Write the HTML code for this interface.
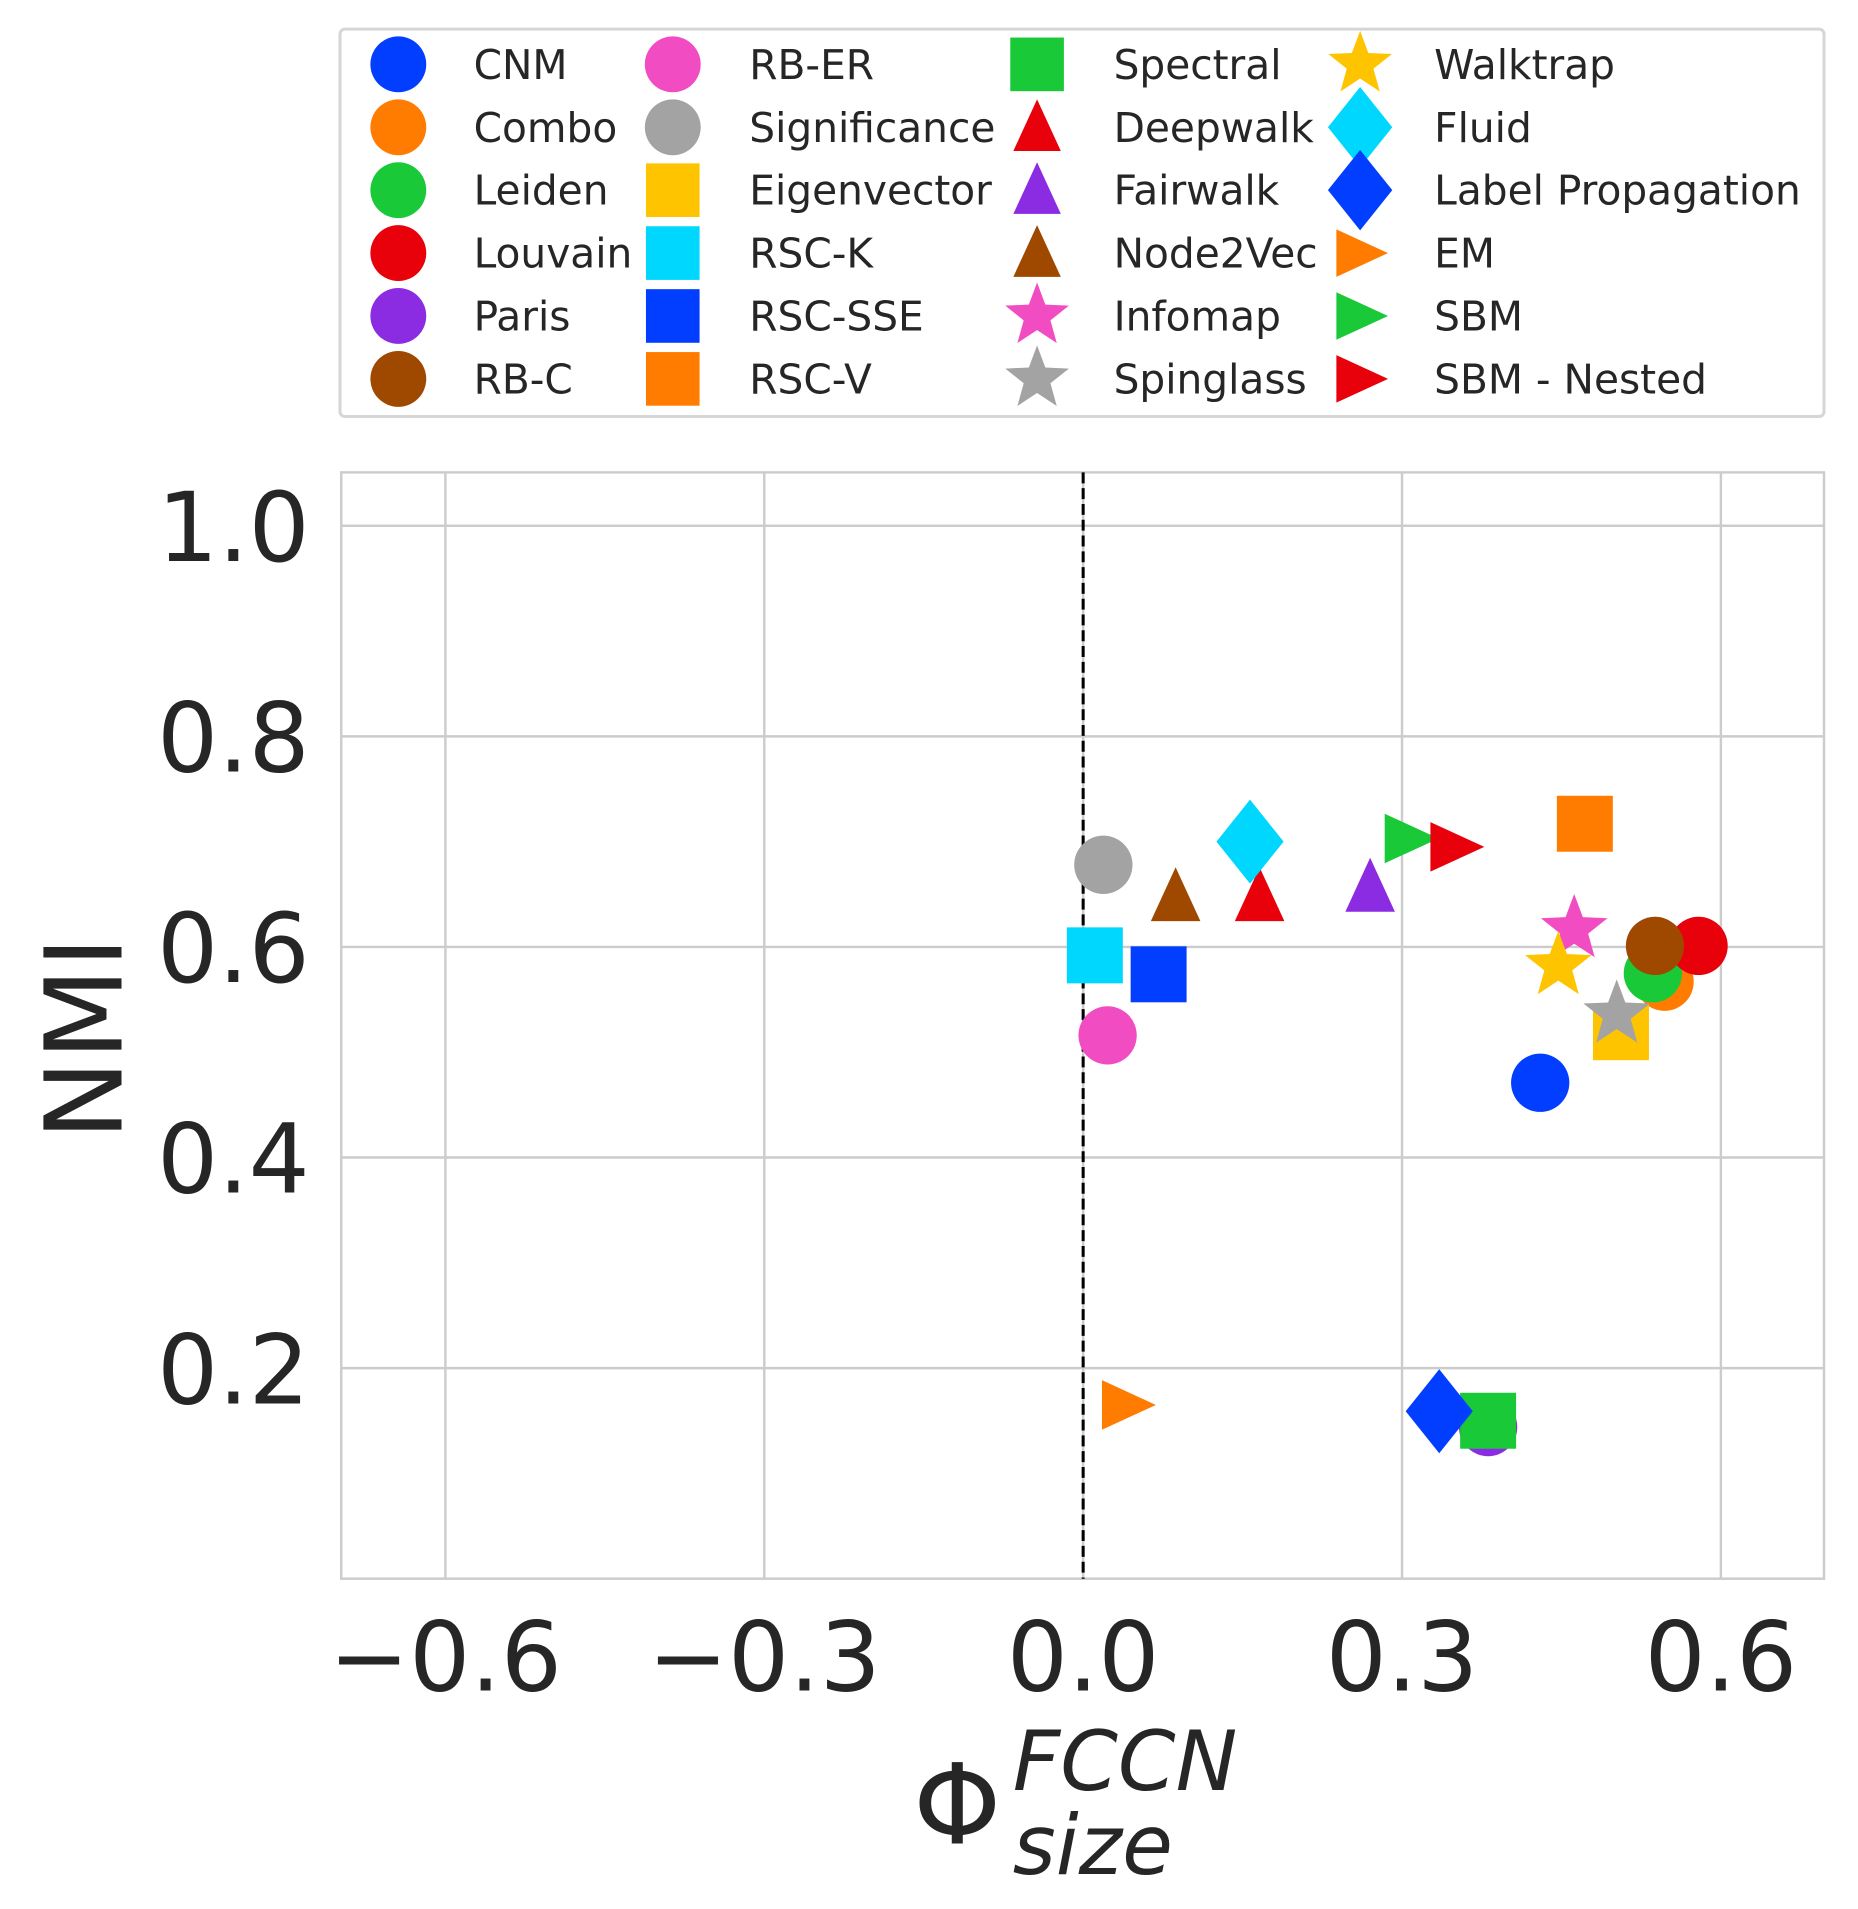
<!DOCTYPE html>
<html><head><meta charset="utf-8"><style>
html,body{margin:0;padding:0;background:#fff;}
svg{display:block;font-family:"DejaVu Sans","Liberation Sans",sans-serif;}
</style></head><body>
<svg id="chart" width="1858" height="1909" viewBox="0 0 1530 1572" xmlns="http://www.w3.org/2000/svg">
<g id="grid"></g>
<g id="marks"></g>
<g id="axes"></g>
<g id="legend"></g>
</svg>
<script>
const methods = ["CNM","Combo","Leiden","Louvain","Paris","RB-C","RB-ER","Significance","Eigenvector","RSC-K","RSC-SSE","RSC-V","Spectral","Deepwalk","Fairwalk","Node2Vec","Infomap","Spinglass","Walktrap","Fluid","Label Propagation","EM","SBM","SBM - Nested"];
const phiValues = [0.430,0.547,0.536,0.579,0.381,0.538,0.023,0.019,0.506,0.011,0.071,0.472,0.381,0.166,0.270,0.087,0.462,0.502,0.447,0.157,0.335,0.041,0.307,0.350];
const nmiValues = [0.471,0.567,0.575,0.601,0.144,0.601,0.516,0.678,0.519,0.592,0.574,0.717,0.150,0.648,0.657,0.648,0.617,0.536,0.582,0.700,0.159,0.165,0.703,0.695];
const markerShapes = ["circle","circle","circle","circle","circle","circle","circle","circle","square","square","square","square","square","triangle","triangle","triangle","star","star","star","diamond","diamond","right","right","right"];
const markerColors = ["#023eff","#ff7c00","#1ac938","#e8000b","#8b2be2","#9f4800","#f14cc1","#a3a3a3","#ffc400","#00d7ff","#023eff","#ff7c00","#1ac938","#e8000b","#8b2be2","#9f4800","#f14cc1","#a3a3a3","#ffc400","#00d7ff","#023eff","#ff7c00","#1ac938","#e8000b"];
const xTicks = [-0.6,-0.3,0.0,0.3,0.6];
const xTickLabels = ["\u22120.6","\u22120.3","0.0","0.3","0.6"];
const yTicks = [0.2,0.4,0.6,0.8,1.0];
const yTickLabels = ["0.2","0.4","0.6","0.8","1.0"];

const NS="http://www.w3.org/2000/svg";
const L=281,R=1502,T=389,B=1300;
const xMin=-0.698,xMax=0.697,yMin=0.0,yMax=1.0507;
function xs(v){return L+(v-xMin)/(xMax-xMin)*(R-L);}
function ys(v){return B-(v-yMin)/(yMax-yMin)*(B-T);}
function mk(tag,attrs,parent){const e=document.createElementNS(NS,tag);for(const k in attrs)e.setAttribute(k,attrs[k]);parent.appendChild(e);return e;}
function shape(kind,cx,cy,s,color,parent){
  let e;
  if(kind==="circle"){e=mk("circle",{cx:cx,cy:cy,r:s*0.5,fill:color},parent);}
  else if(kind==="square"){e=mk("rect",{x:cx-s*0.48,y:cy-s*0.48,width:s*0.96,height:s*0.96,fill:color},parent);}
  else if(kind==="triangle"){const h=s*0.5;e=mk("polygon",{points:`${cx},${cy-h} ${cx+h*0.85},${cy+h*0.85} ${cx-h*0.85},${cy+h*0.85}`,fill:color},parent);}
  else if(kind==="right"){const h=s*0.5;e=mk("polygon",{points:`${cx+h},${cy} ${cx-h*0.85},${cy-h*0.85} ${cx-h*0.85},${cy+h*0.85}`,fill:color},parent);}
  else if(kind==="diamond"){const h=s*0.72;e=mk("polygon",{points:`${cx},${cy-h} ${cx+h*0.8},${cy} ${cx},${cy+h} ${cx-h*0.8},${cy}`,fill:color},parent);}
  else {const ro=s*0.6,ri=ro*0.42;let p=[];for(let i=0;i<10;i++){const r=i%2?ri:ro;const a=-Math.PI/2+i*Math.PI/5;p.push((cx+r*Math.cos(a)).toFixed(1)+","+(cy+r*Math.sin(a)).toFixed(1));}e=mk("polygon",{points:p.join(" "),fill:color},parent);}
  return e;
}
const grid=document.getElementById("grid"),marks=document.getElementById("marks"),axes=document.getElementById("axes"),legend=document.getElementById("legend");
const bg=mk("rect",{x:L,y:T,width:R-L,height:B-T,fill:"#fff",stroke:"#cccccc","stroke-width":2},grid);


xTicks.forEach((t,i)=>{
  const ln=mk("line",{x1:xs(t),x2:xs(t),y1:T,y2:B,stroke:"#cccccc","stroke-width":2},grid);
  
  
  const tx=mk("text",{x:xs(t),y:1392,"font-size":79,fill:"#262626","text-anchor":"middle"},axes);
  tx.textContent=xTickLabels[i];
  
  
});
yTicks.forEach((t,i)=>{
  const ln=mk("line",{x1:L,x2:R,y1:ys(t),y2:ys(t),stroke:"#cccccc","stroke-width":2},grid);
  
  
  const tx=mk("text",{x:255,y:ys(t)+29,"font-size":79,fill:"#262626","text-anchor":"end"},axes);
  tx.textContent=yTickLabels[i];
  
  
});
const zl=mk("line",{x1:xs(0),x2:xs(0),y1:T,y2:B,stroke:"#000","stroke-width":2.5,"stroke-dasharray":"9,4"},marks);


methods.forEach((m,i)=>{
  const e=shape(markerShapes[i],xs(phiValues[i]),ys(nmiValues[i]),48,markerColors[i],marks);
  
  
});
const yl=mk("text",{x:0,y:0,"font-size":88,fill:"#262626","text-anchor":"middle",transform:"translate(100,855) rotate(-90)"},axes);
yl.textContent="NMI";


const xl=mk("text",{x:752,y:1518,"font-size":92,fill:"#262626"},axes);
xl.textContent="\u03A6";


const sup=mk("text",{x:834,y:1474,"font-size":68,fill:"#262626","font-style":"italic"},axes);
sup.textContent="FCCN";


const sub=mk("text",{x:834,y:1543,"font-size":68,fill:"#262626","font-style":"italic"},axes);
sub.textContent="size";


// legend
const lb=mk("rect",{x:280,y:24,width:1222,height:319,rx:4,fill:"#fff",stroke:"#d6d6d6","stroke-width":2.5},legend);


const colMarker=[328,554,854,1120],colText=[390,617,917,1181];
methods.forEach((m,i)=>{
  const c=Math.floor(i/6),r=i%6,cy=53+r*51.8;
  const g=mk("g",{},legend);
  
  
  shape(markerShapes[i],colMarker[c],cy,46,markerColors[i],g);
  const t=mk("text",{x:colText[c],y:cy+12,"font-size":33.5,fill:"#262626"},g);
  t.textContent=m;
});
</script>
</body></html>
